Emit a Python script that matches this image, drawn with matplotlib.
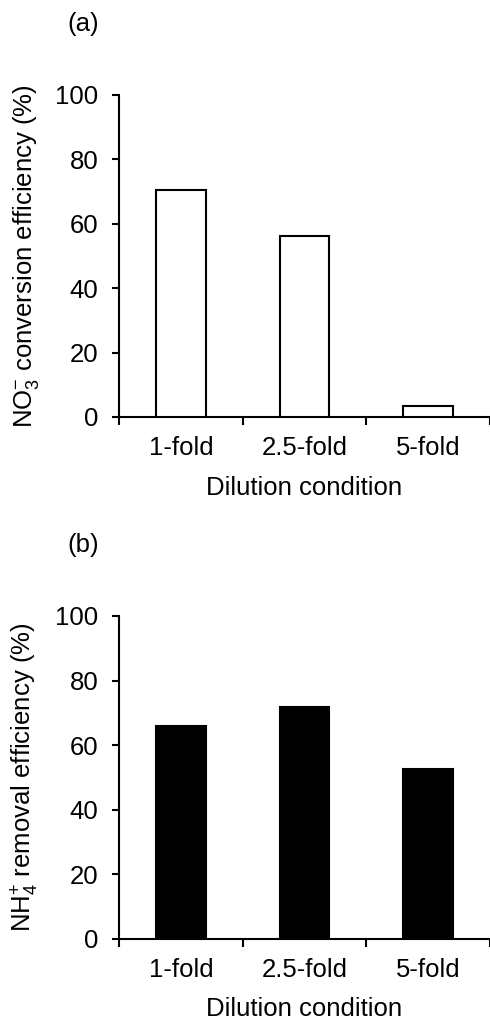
import numpy as np
import matplotlib.pyplot as plt

plt.rcParams['font.family'] = ['Liberation Sans', 'DejaVu Sans']
plt.rcParams['mathtext.fontset'] = 'custom'
plt.rcParams['mathtext.rm'] = 'Liberation Sans'
plt.rcParams['mathtext.it'] = 'Liberation Sans:italic'
plt.rcParams['mathtext.bf'] = 'Liberation Sans:bold'

## Data
conditions = ['1-fold', '2.5-fold', '5-fold']
no3_conversion = [70.5, 56.2, 3.4]
nh4_removal = [66.0, 71.9, 52.6]

fs = 18.5

fig = plt.figure(figsize=(4.9, 10.21), dpi=100)
ax_a = fig.add_axes([0.243, 0.5916, 0.757, 0.3154])
ax_b = fig.add_axes([0.243, 0.0806, 0.757, 0.3161])

panels = [
    (ax_a, no3_conversion, 'white', r'NO$_3^{-}$ conversion efficiency (%)', '(a)'),
    (ax_b, nh4_removal, 'black', r'NH$_4^{+}$ removal efficiency (%)', '(b)'),
]

x = np.arange(len(conditions))
for ax, vals, face, ylab, tag in panels:
    ax.bar(x, vals, width=0.4, color=face, edgecolor='black', linewidth=1.5, zorder=3)
    ax.set_xlim(-0.5, len(conditions) - 0.5)
    ax.set_ylim(0, 100)
    ax.set_yticks(range(0, 101, 20))

    # category boundaries get the ticks, names sit in between
    ax.set_xticks(np.arange(-0.5, len(conditions), 1.0))
    ax.set_xticklabels([])
    ax.set_xticks(x, minor=True)
    ax.set_xticklabels(conditions, minor=True)
    ax.tick_params(axis='x', which='minor', length=0, pad=14, labelsize=fs)
    ax.tick_params(axis='x', which='major', direction='out', length=6, width=1.5)
    ax.tick_params(axis='y', direction='out', length=5, width=1.5, labelsize=fs, pad=10)

    for side in ['top', 'right']:
        ax.spines[side].set_visible(False)
    for side in ['left', 'bottom']:
        ax.spines[side].set_linewidth(1.5)
        ax.spines[side].set_clip_on(False)

    ax.set_xlabel('Dilution condition', fontsize=fs, labelpad=11)
    ax.set_ylabel(ylab, fontsize=fs, labelpad=10)
    ax.text(-0.14, 1.22, tag, transform=ax.transAxes, fontsize=fs, ha='left', va='center')

plt.savefig('out.png', dpi=100)
